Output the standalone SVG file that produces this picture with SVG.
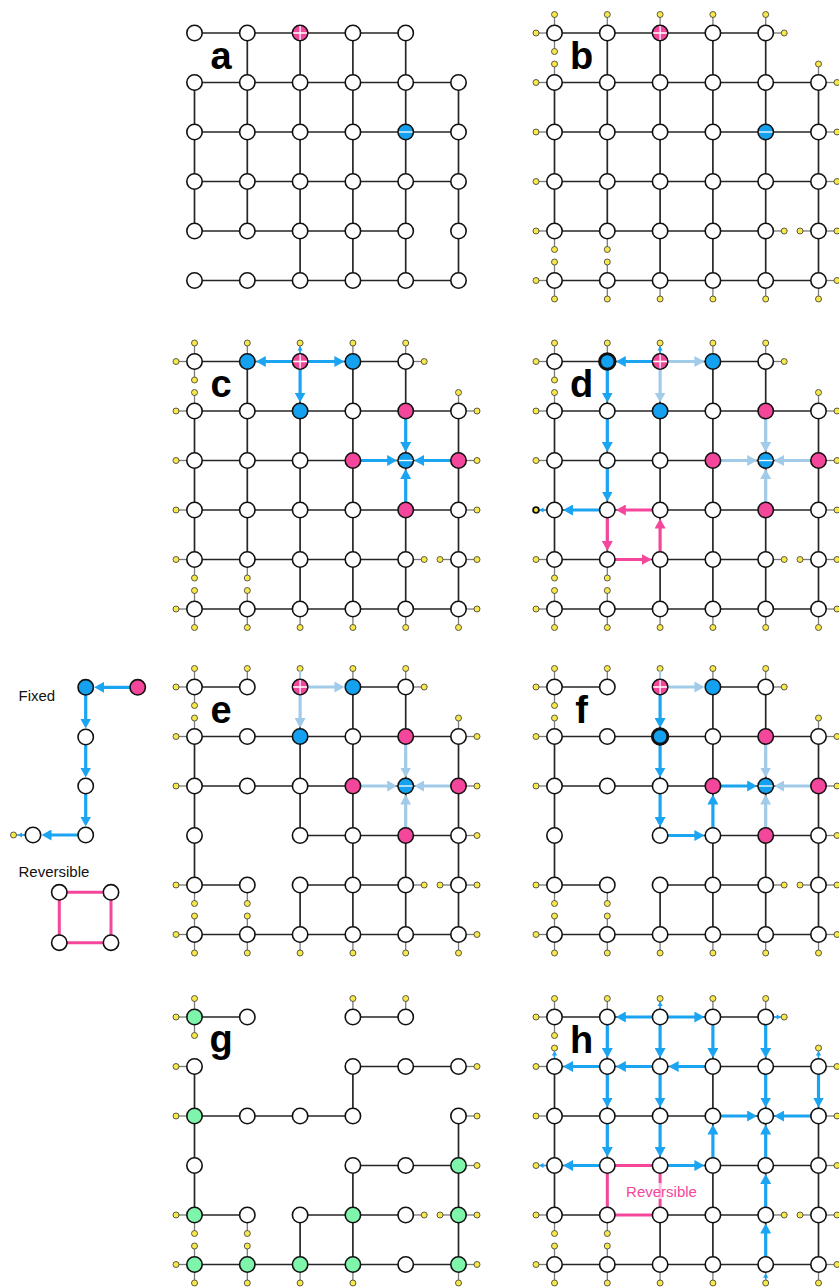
<svg xmlns="http://www.w3.org/2000/svg" width="839" height="1287" viewBox="0 0 839 1287">
<style>
.e{fill:none;stroke:#262626;stroke-width:1.7}
.st{fill:none;stroke:#7a7a7a;stroke-width:1.3}
.yd{fill:#f8e84a;stroke:#333;stroke-width:0.8}
.w{fill:#fff;stroke:#111;stroke-width:1.6}
.bl{fill:#14a2f0;stroke:#111;stroke-width:1.6}
.pk{fill:#f4479b;stroke:#111;stroke-width:1.6}
.gr{fill:#7ef5aa;stroke:#111;stroke-width:1.6}
.thick{stroke-width:3}
.ab{fill:none;stroke:#1aa4f2;stroke-width:3.2;marker-end:url(#mb)}
.al{fill:none;stroke:#a2cbea;stroke-width:3.2;marker-end:url(#ml)}
.ap{fill:none;stroke:#f4479b;stroke-width:3.2;marker-end:url(#mp)}
.rev{fill:none;stroke:#f4479b;stroke-width:3}
.lbl{font-family:"Liberation Sans",Arial,sans-serif;font-weight:bold;font-size:38px;fill:#000;text-anchor:middle}
.lg{font-family:"Liberation Sans",Arial,sans-serif;font-size:15px;fill:#111}
</style>
<defs>
<marker id="mb" viewBox="0 0 10 11" markerWidth="10" markerHeight="11" refX="5" refY="5.5" orient="auto" markerUnits="userSpaceOnUse"><path d="M0,0L10,5.5L0,11z" fill="#1aa4f2"/></marker>
<marker id="ml" viewBox="0 0 10 11" markerWidth="10" markerHeight="11" refX="5" refY="5.5" orient="auto" markerUnits="userSpaceOnUse"><path d="M0,0L10,5.5L0,11z" fill="#a2cbea"/></marker>
<marker id="mp" viewBox="0 0 10 11" markerWidth="10" markerHeight="11" refX="5" refY="5.5" orient="auto" markerUnits="userSpaceOnUse"><path d="M0,0L10,5.5L0,11z" fill="#f4479b"/></marker>
<circle id="W" r="7.7" class="w"/>
<circle id="B" r="7.7" class="bl"/>
<circle id="BT" r="7.7" class="bl thick"/>
<circle id="K" r="7.7" class="pk"/>
<circle id="G" r="7.7" class="gr"/>
<g id="P"><circle r="7.7" class="pk"/><path d="M-6.9,0H6.9M0,-6.9V6.9" stroke="#fff" stroke-width="1.3"/></g>
<g id="M"><circle r="7.7" class="bl"/><path d="M-6.9,0H6.9" stroke="#fff" stroke-width="1.3"/></g>
<g id="dL"><path d="M0,0H-16" class="st"/><circle cx="-18.5" cy="0" r="3" class="yd"/></g>
<g id="dR"><path d="M0,0H16" class="st"/><circle cx="18.5" cy="0" r="3" class="yd"/></g>
<g id="dT"><path d="M0,0V-16" class="st"/><circle cx="0" cy="-18.5" r="3" class="yd"/></g>
<g id="dB"><path d="M0,0V16" class="st"/><circle cx="0" cy="18.5" r="3" class="yd"/></g>
<g id="to"><path d="M7.5,0H12" stroke="#1aa4f2" stroke-width="1.4"/><path d="M11,-2.6L15.5,0L11,2.6z" fill="#1aa4f2"/></g>
<g id="ti"><path d="M12,0H15.5" stroke="#1aa4f2" stroke-width="1.4"/><path d="M13.2,-2.6L8.4,0L13.2,2.6z" fill="#1aa4f2"/></g>
<g id="row6"><use href="#W" x="0"/><use href="#W" x="52.8"/><use href="#W" x="105.6"/><use href="#W" x="158.4"/><use href="#W" x="211.2"/><use href="#W" x="264"/></g>
<path id="edgesFull" class="e" d="M0,0H211.2M0,49.5H264M0,99H264M0,148.5H264M0,198H211.2M0,247.5H264M0,49.5V198M52.8,0V198M105.6,0V247.5M158.4,0V247.5M211.2,0V247.5M264,49.5V247.5"/>
<path id="edgesEF" class="e" d="M0,0H52.8M158.4,0H211.2M0,49.5H264M0,99H264M105.6,148.5H264M0,198H52.8M105.6,198H211.2M0,247.5H264M0,49.5V198M105.6,0V148.5M105.6,198V247.5M158.4,0V247.5M211.2,0V247.5M264,49.5V247.5"/>
<g id="dotsCommon">
<use href="#dL" x="0" y="0"/><use href="#dT" x="0" y="0"/><use href="#dB" x="0" y="0"/>
<use href="#dT" x="52.8" y="0"/><use href="#dT" x="105.6" y="0"/><use href="#dT" x="158.4" y="0"/>
<use href="#dT" x="211.2" y="0"/><use href="#dR" x="211.2" y="0"/>
<use href="#dT" x="0" y="49.5"/><use href="#dL" x="0" y="49.5"/>
<use href="#dT" x="264" y="49.5"/><use href="#dR" x="264" y="49.5"/>
<use href="#dL" x="0" y="99"/><use href="#dR" x="264" y="99"/>
<use href="#dR" x="264" y="148.5"/>
<use href="#dL" x="0" y="198"/><use href="#dB" x="0" y="198"/><use href="#dB" x="52.8" y="198"/>
<use href="#dR" x="211.2" y="198"/><use href="#dL" x="264" y="198"/><use href="#dR" x="264" y="198"/>
<use href="#dL" x="0" y="247.5"/><use href="#dT" x="0" y="247.5"/><use href="#dB" x="0" y="247.5"/>
<use href="#dT" x="52.8" y="247.5"/><use href="#dB" x="52.8" y="247.5"/>
<use href="#dB" x="105.6" y="247.5"/><use href="#dB" x="158.4" y="247.5"/><use href="#dB" x="211.2" y="247.5"/>
<use href="#dB" x="264" y="247.5"/><use href="#dR" x="264" y="247.5"/>
</g>
<g id="dotsFull"><use href="#dotsCommon"/><use href="#dL" x="0" y="148.5"/></g>
</defs>

<g id="panel-a" transform="translate(194.5,33)">
<use href="#edgesFull"/>
<g class="nodes">
<use href="#W" x="0" y="0"/><use href="#W" x="52.8" y="0"/><use href="#P" x="105.6" y="0"/><use href="#W" x="158.4" y="0"/><use href="#W" x="211.2" y="0"/>
<use href="#row6" y="49.5"/>
<use href="#W" x="0" y="99"/><use href="#W" x="52.8" y="99"/><use href="#W" x="105.6" y="99"/><use href="#W" x="158.4" y="99"/><use href="#M" x="211.2" y="99"/><use href="#W" x="264" y="99"/>
<use href="#row6" y="148.5"/><use href="#row6" y="198"/><use href="#row6" y="247.5"/>
</g>
</g>

<g id="panel-b" transform="translate(554.5,33)">
<use href="#dotsFull"/>
<use href="#edgesFull"/>
<g class="nodes">
<use href="#W" x="0" y="0"/><use href="#W" x="52.8" y="0"/><use href="#P" x="105.6" y="0"/><use href="#W" x="158.4" y="0"/><use href="#W" x="211.2" y="0"/>
<use href="#row6" y="49.5"/>
<use href="#W" x="0" y="99"/><use href="#W" x="52.8" y="99"/><use href="#W" x="105.6" y="99"/><use href="#W" x="158.4" y="99"/><use href="#M" x="211.2" y="99"/><use href="#W" x="264" y="99"/>
<use href="#row6" y="148.5"/><use href="#row6" y="198"/><use href="#row6" y="247.5"/>
</g>
</g>

<g id="panel-c" transform="translate(194.5,361.5)">
<use href="#dotsFull"/>
<use href="#edgesFull"/>
<g class="connectors">
<use href="#to" transform="translate(105.6,0) rotate(-90)"/>
<path class="ab" d="M105.6,0H66.3"/>
<path class="ab" d="M105.6,0H144.9"/>
<path class="ab" d="M105.6,0V36"/>
<path class="ab" d="M211.2,49.5V85.5"/>
<path class="ab" d="M158.4,99H197.7"/>
<path class="ab" d="M264,99H224.7"/>
<path class="ab" d="M211.2,148.5V112.5"/>
</g>
<g class="nodes">
<use href="#W" x="0" y="0"/><use href="#B" x="52.8" y="0"/><use href="#P" x="105.6" y="0"/><use href="#B" x="158.4" y="0"/><use href="#W" x="211.2" y="0"/>
<use href="#W" x="0" y="49.5"/><use href="#W" x="52.8" y="49.5"/><use href="#B" x="105.6" y="49.5"/><use href="#W" x="158.4" y="49.5"/><use href="#K" x="211.2" y="49.5"/><use href="#W" x="264" y="49.5"/>
<use href="#W" x="0" y="99"/><use href="#W" x="52.8" y="99"/><use href="#W" x="105.6" y="99"/><use href="#K" x="158.4" y="99"/><use href="#M" x="211.2" y="99"/><use href="#K" x="264" y="99"/>
<use href="#W" x="0" y="148.5"/><use href="#W" x="52.8" y="148.5"/><use href="#W" x="105.6" y="148.5"/><use href="#W" x="158.4" y="148.5"/><use href="#K" x="211.2" y="148.5"/><use href="#W" x="264" y="148.5"/>
<use href="#row6" y="198"/><use href="#row6" y="247.5"/>
</g>
</g>

<g id="panel-d" transform="translate(554.5,361.5)">
<use href="#dotsCommon"/>
<path class="st" d="M0,148.5H-16"/>
<use href="#edgesFull"/>
<g class="connectors">
<use href="#to" transform="translate(105.6,0) rotate(-90)"/>
<use href="#to" transform="translate(0,148.5) rotate(180)"/>
<path class="ab" d="M105.6,0H66.3"/>
<path class="al" d="M105.6,0H144.9"/>
<path class="al" d="M105.6,0V36"/>
<path class="ab" d="M52.8,0V36"/>
<path class="ab" d="M52.8,49.5V85.5"/>
<path class="ab" d="M52.8,99V135"/>
<path class="ab" d="M52.8,148.5H13.5"/>
<path class="ap" d="M105.6,148.5H66.3"/>
<path class="ap" d="M52.8,148.5V184.5"/>
<path class="ap" d="M52.8,198H92.1"/>
<path class="ap" d="M105.6,198V162"/>
<path class="al" d="M211.2,49.5V85.5"/>
<path class="al" d="M158.4,99H197.7"/>
<path class="al" d="M264,99H224.7"/>
<path class="al" d="M211.2,148.5V112.5"/>
</g>
<circle cx="-18.5" cy="148.5" r="2.9" fill="#f8e84a" stroke="#111" stroke-width="1.8"/>
<g class="nodes">
<use href="#W" x="0" y="0"/><use href="#BT" x="52.8" y="0"/><use href="#P" x="105.6" y="0"/><use href="#B" x="158.4" y="0"/><use href="#W" x="211.2" y="0"/>
<use href="#W" x="0" y="49.5"/><use href="#W" x="52.8" y="49.5"/><use href="#B" x="105.6" y="49.5"/><use href="#W" x="158.4" y="49.5"/><use href="#K" x="211.2" y="49.5"/><use href="#W" x="264" y="49.5"/>
<use href="#W" x="0" y="99"/><use href="#W" x="52.8" y="99"/><use href="#W" x="105.6" y="99"/><use href="#K" x="158.4" y="99"/><use href="#M" x="211.2" y="99"/><use href="#K" x="264" y="99"/>
<use href="#W" x="0" y="148.5"/><use href="#W" x="52.8" y="148.5"/><use href="#W" x="105.6" y="148.5"/><use href="#W" x="158.4" y="148.5"/><use href="#K" x="211.2" y="148.5"/><use href="#W" x="264" y="148.5"/>
<use href="#row6" y="198"/><use href="#row6" y="247.5"/>
</g>
</g>

<g id="panel-e" transform="translate(194.5,687)">
<use href="#dotsCommon"/>
<path d="M105.6,0V-16" stroke="#a2cbea" stroke-width="2"/>
<use href="#edgesEF"/>
<g class="connectors">
<path class="al" d="M105.6,0H144.9"/>
<path class="al" d="M105.6,0V36"/>
<path class="al" d="M211.2,49.5V85.5"/>
<path class="al" d="M158.4,99H197.7"/>
<path class="al" d="M264,99H224.7"/>
<path class="al" d="M211.2,148.5V112.5"/>
</g>
<g class="nodes">
<use href="#W" x="0" y="0"/><use href="#W" x="52.8" y="0"/><use href="#P" x="105.6" y="0"/><use href="#B" x="158.4" y="0"/><use href="#W" x="211.2" y="0"/>
<use href="#W" x="0" y="49.5"/><use href="#W" x="52.8" y="49.5"/><use href="#B" x="105.6" y="49.5"/><use href="#W" x="158.4" y="49.5"/><use href="#K" x="211.2" y="49.5"/><use href="#W" x="264" y="49.5"/>
<use href="#W" x="0" y="99"/><use href="#W" x="52.8" y="99"/><use href="#W" x="105.6" y="99"/><use href="#K" x="158.4" y="99"/><use href="#M" x="211.2" y="99"/><use href="#K" x="264" y="99"/>
<use href="#W" x="0" y="148.5"/><use href="#W" x="105.6" y="148.5"/><use href="#W" x="158.4" y="148.5"/><use href="#K" x="211.2" y="148.5"/><use href="#W" x="264" y="148.5"/>
<use href="#row6" y="198"/><use href="#row6" y="247.5"/>
</g>
</g>

<g id="panel-f" transform="translate(554.5,687)">
<use href="#dotsCommon"/>
<path d="M105.6,0V-16" stroke="#a2cbea" stroke-width="2"/>
<use href="#edgesEF"/>
<g class="connectors">
<path class="al" d="M105.6,0H144.9"/>
<path class="al" d="M211.2,49.5V85.5"/>
<path class="al" d="M264,99H224.7"/>
<path class="al" d="M211.2,148.5V112.5"/>
<path class="ab" d="M105.6,0V36"/>
<path class="ab" d="M105.6,49.5V85.5"/>
<path class="ab" d="M105.6,99V135"/>
<path class="ab" d="M105.6,148.5H144.9"/>
<path class="ab" d="M158.4,148.5V112.5"/>
<path class="ab" d="M158.4,99H197.7"/>
</g>
<g class="nodes">
<use href="#W" x="0" y="0"/><use href="#W" x="52.8" y="0"/><use href="#P" x="105.6" y="0"/><use href="#B" x="158.4" y="0"/><use href="#W" x="211.2" y="0"/>
<use href="#W" x="0" y="49.5"/><use href="#W" x="52.8" y="49.5"/><use href="#BT" x="105.6" y="49.5"/><use href="#W" x="158.4" y="49.5"/><use href="#K" x="211.2" y="49.5"/><use href="#W" x="264" y="49.5"/>
<use href="#W" x="0" y="99"/><use href="#W" x="52.8" y="99"/><use href="#W" x="105.6" y="99"/><use href="#K" x="158.4" y="99"/><use href="#M" x="211.2" y="99"/><use href="#K" x="264" y="99"/>
<use href="#W" x="0" y="148.5"/><use href="#W" x="105.6" y="148.5"/><use href="#W" x="158.4" y="148.5"/><use href="#K" x="211.2" y="148.5"/><use href="#W" x="264" y="148.5"/>
<use href="#row6" y="198"/><use href="#row6" y="247.5"/>
</g>
</g>

<g id="panel-g" transform="translate(194.5,1017)">
<g class="dots">
<use href="#dL" x="0" y="0"/><use href="#dT" x="0" y="0"/><use href="#dB" x="0" y="0"/>
<use href="#dT" x="158.4" y="0"/><use href="#dT" x="211.2" y="0"/>
<use href="#dL" x="0" y="49.5"/><use href="#dR" x="264" y="49.5"/>
<use href="#dL" x="0" y="99"/><use href="#dR" x="264" y="99"/>
<use href="#dR" x="264" y="148.5"/>
<use href="#dL" x="0" y="198"/><use href="#dB" x="0" y="198"/><use href="#dB" x="52.8" y="198"/>
<use href="#dR" x="211.2" y="198"/><use href="#dL" x="264" y="198"/><use href="#dR" x="264" y="198"/>
<use href="#dL" x="0" y="247.5"/><use href="#dT" x="0" y="247.5"/><use href="#dB" x="0" y="247.5"/>
<use href="#dT" x="52.8" y="247.5"/><use href="#dB" x="52.8" y="247.5"/>
<use href="#dB" x="105.6" y="247.5"/><use href="#dB" x="158.4" y="247.5"/>
<use href="#dB" x="264" y="247.5"/><use href="#dR" x="264" y="247.5"/>
</g>
<path class="e" d="M0,0H52.8M158.4,0H211.2M158.4,49.5H264M0,99H158.4M158.4,148.5H264M0,198H52.8M105.6,198H211.2M0,247.5H264M0,49.5V198M158.4,49.5V99M158.4,148.5V247.5M105.6,198V247.5M264,99V247.5"/>
<g class="nodes">
<use href="#G" x="0" y="0"/><use href="#W" x="52.8" y="0"/><use href="#W" x="158.4" y="0"/><use href="#W" x="211.2" y="0"/>
<use href="#W" x="0" y="49.5"/><use href="#W" x="158.4" y="49.5"/><use href="#W" x="211.2" y="49.5"/><use href="#W" x="264" y="49.5"/>
<use href="#G" x="0" y="99"/><use href="#W" x="52.8" y="99"/><use href="#W" x="105.6" y="99"/><use href="#W" x="158.4" y="99"/><use href="#W" x="264" y="99"/>
<use href="#W" x="0" y="148.5"/><use href="#W" x="158.4" y="148.5"/><use href="#W" x="211.2" y="148.5"/><use href="#G" x="264" y="148.5"/>
<use href="#G" x="0" y="198"/><use href="#W" x="52.8" y="198"/><use href="#W" x="105.6" y="198"/><use href="#G" x="158.4" y="198"/><use href="#W" x="211.2" y="198"/><use href="#G" x="264" y="198"/>
<use href="#G" x="0" y="247.5"/><use href="#G" x="52.8" y="247.5"/><use href="#G" x="105.6" y="247.5"/><use href="#G" x="158.4" y="247.5"/><use href="#W" x="211.2" y="247.5"/><use href="#G" x="264" y="247.5"/>
</g>
</g>

<g id="panel-h" transform="translate(554.5,1017)">
<use href="#dotsFull"/>
<use href="#edgesFull"/>
<path class="rev" d="M52.8,148.5H105.6V198H52.8Z"/>
<g class="connectors">
<use href="#to" transform="translate(105.6,0) rotate(-90)"/>
<use href="#to" transform="translate(211.2,0)"/>
<use href="#to" transform="translate(0,49.5) rotate(-90)"/>
<use href="#to" transform="translate(264,49.5) rotate(-90)"/>
<use href="#to" transform="translate(0,148.5) rotate(180)"/>
<use href="#ti" transform="translate(211.2,247.5) rotate(90)"/>
<path class="ab" d="M105.6,0H66.3"/>
<path class="ab" d="M105.6,0H144.9"/>
<path class="ab" d="M52.8,0V36"/>
<path class="ab" d="M105.6,0V36"/>
<path class="ab" d="M158.4,0V36"/>
<path class="ab" d="M211.2,0V36"/>
<path class="ab" d="M52.8,49.5H13.5"/>
<path class="ab" d="M105.6,49.5H66.3"/>
<path class="ab" d="M158.4,49.5H119.1"/>
<path class="ab" d="M52.8,49.5V85.5"/>
<path class="ab" d="M105.6,49.5V85.5"/>
<path class="ab" d="M211.2,49.5V85.5"/>
<path class="ab" d="M264,49.5V85.5"/>
<path class="ab" d="M158.4,99H197.7"/>
<path class="ab" d="M264,99H224.7"/>
<path class="ab" d="M52.8,99V135"/>
<path class="ab" d="M105.6,99V135"/>
<path class="ab" d="M158.4,148.5V112.5"/>
<path class="ab" d="M211.2,148.5V112.5"/>
<path class="ab" d="M52.8,148.5H13.5"/>
<path class="ab" d="M105.6,148.5H144.9"/>
<path class="ab" d="M211.2,198V162"/>
<path class="ab" d="M211.2,247.5V211.5"/>
</g>
<rect x="71" y="166" width="73" height="16" fill="#fff" opacity="0.65"/>
<text class="lg" x="107" y="180" text-anchor="middle" style="fill:#f4479b">Reversible</text>
<g class="nodes">
<use href="#W" x="0" y="0"/><use href="#W" x="52.8" y="0"/><use href="#W" x="105.6" y="0"/><use href="#W" x="158.4" y="0"/><use href="#W" x="211.2" y="0"/>
<use href="#row6" y="49.5"/><use href="#row6" y="99"/><use href="#row6" y="148.5"/><use href="#row6" y="198"/><use href="#row6" y="247.5"/>
</g>
</g>

<g id="labels">
<text class="lbl" x="221" y="68.5">a</text>
<text class="lbl" x="581.5" y="68.5">b</text>
<text class="lbl" x="221" y="396.5">c</text>
<text class="lbl" x="581.5" y="396.5">d</text>
<text class="lbl" x="221" y="723">e</text>
<text class="lbl" x="581.5" y="723">f</text>
<text class="lbl" x="221" y="1052">g</text>
<text class="lbl" x="581.5" y="1053">h</text>
</g>

<g id="legend">
<text class="lg" x="18.5" y="701">Fixed</text>
<text class="lg" x="18.5" y="877">Reversible</text>
<path class="st" d="M33,835H16"/>
<circle cx="13.5" cy="835" r="3" class="yd"/>
<use href="#to" transform="translate(33,835) rotate(180)"/>
<g class="connectors">
<path class="ab" d="M137.7,687.3H99.2"/>
<path class="ab" d="M85.7,687.3V723.5"/>
<path class="ab" d="M85.7,737V772.5"/>
<path class="ab" d="M85.7,786V821.5"/>
<path class="ab" d="M85.7,835H46.5"/>
<path class="rev" d="M59.3,892.3H111V942.7H59.3Z"/>
</g>
<g class="nodes">
<use href="#B" x="85.7" y="687.3"/><use href="#K" x="137.7" y="687.3"/>
<use href="#W" x="85.7" y="737"/><use href="#W" x="85.7" y="786"/><use href="#W" x="85.7" y="835"/><use href="#W" x="33" y="835"/>
<use href="#W" x="59.3" y="892.3"/><use href="#W" x="111" y="892.3"/><use href="#W" x="59.3" y="942.7"/><use href="#W" x="111" y="942.7"/>
</g>
</g>
</svg>
